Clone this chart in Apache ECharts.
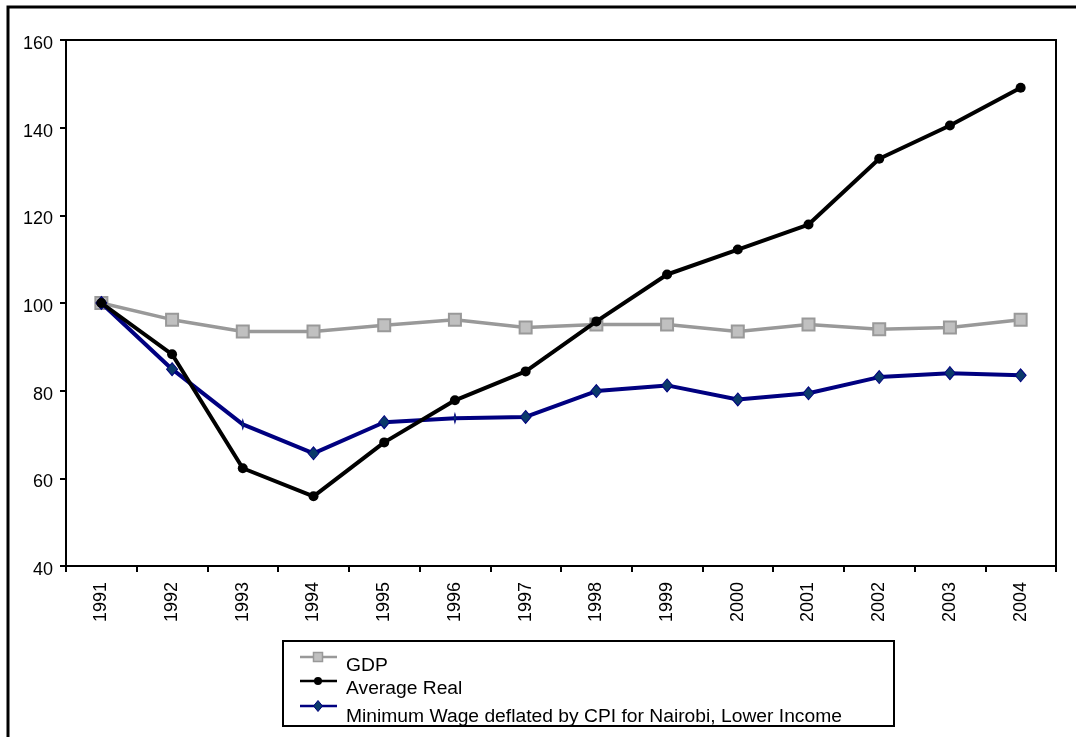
<!DOCTYPE html>
<html>
<head>
<meta charset="utf-8">
<script src="https://cdn.jsdelivr.net/npm/echarts@6/dist/echarts.min.js"></script>
<style>
  html, body { margin: 0; padding: 0; background: #fff; }
  #chart { width: 1076px; height: 737px; }
</style>
</head>
<body>
<div id="chart"></div>
<script>
// Index values, 1991 = 100
const years = ['1991', '1992', '1993', '1994', '1995', '1996', '1997',
               '1998', '1999', '2000', '2001', '2002', '2003', '2004'];
const gdp = [100, 96.2, 93.5, 93.5, 94.9, 96.2, 94.4, 95.1, 95.1, 93.5, 95.1, 94.0, 94.4, 96.2];
const averageReal = [100, 88.3, 62.3, 55.9, 68.2, 77.8, 84.4, 95.8, 106.5, 112.2, 117.9, 132.9, 140.5, 149.1];
const minimumWage = [100, 84.9, 72.3, 65.7, 72.8, 73.7, 74.0, 79.9, 81.2, 78.0, 79.4, 83.1, 84.0, 83.5];
const seriesNames = ['GDP', 'Average Real', 'Minimum Wage deflated by CPI for Nairobi, Lower Income'];
const yTicks = { min: 40, max: 160, step: 20 };

const FONT = '"Liberation Sans", Arial, sans-serif';
const colors = {
  gdpLine: '#999999', gdpFill: '#c0c0c0',
  avg: '#000000',
  minLine: '#000080', minFill: '#0a3a6a'
};

const chart = echarts.init(document.getElementById('chart'), null, { renderer: 'canvas' });

// legend rows drawn as graphics: icon line + marker, text sitting slightly below
function legendRow(y, textY, name, lineColor, symbolShape) {
  return [
    { type: 'line', shape: { x1: 300, y1: y, x2: 337, y2: y },
      style: { stroke: lineColor, lineWidth: 2.5 } },
    symbolShape,
    { type: 'text', x: 346, y: textY, scaleX: 1.07,
      style: { text: name, font: '18px ' + FONT, fill: '#000', textVerticalAlign: 'middle' } }
  ];
}

const legendGraphics = [
  { type: 'rect', shape: { x: 283, y: 641, width: 611, height: 85 },
    style: { fill: '#fff', stroke: '#000', lineWidth: 2 } },
  ...legendRow(657, 666, seriesNames[0], colors.gdpLine,
    { type: 'rect', shape: { x: 313.5, y: 652.5, width: 9, height: 9 },
      style: { fill: colors.gdpFill, stroke: colors.gdpLine, lineWidth: 1.5 } }),
  ...legendRow(681, 689, seriesNames[1], colors.avg,
    { type: 'circle', shape: { cx: 318, cy: 681, r: 4 }, style: { fill: colors.avg } }),
  ...legendRow(706, 717, seriesNames[2], colors.minLine,
    { type: 'polygon', shape: { points: [[318, 700.5], [322.5, 706], [318, 711.5], [313.5, 706]] },
      style: { fill: colors.minFill, stroke: colors.minLine, lineWidth: 1 } })
];

// a couple of the minimum-wage markers render as thin ticks
const thinMarkers = { 2: true, 5: true };

const option = {
  backgroundColor: '#fff',
  animation: false,
  textStyle: { fontFamily: FONT },
  grid: {
    left: 66, right: 20, top: 40, bottom: 171,
    containLabel: false, outerBoundsMode: 'none',
    show: true, borderColor: '#000', borderWidth: 2, backgroundColor: 'transparent'
  },
  xAxis: {
    type: 'category',
    data: years,
    boundaryGap: true,
    axisLine: { show: true, lineStyle: { color: '#000', width: 2 } },
    axisTick: { show: true, inside: false, length: 6, alignWithLabel: false, lineStyle: { color: '#000', width: 2 } },
    axisLabel: { rotate: 90, color: '#000', fontSize: 18, fontFamily: FONT, margin: 16, interval: 0 },
    splitLine: { show: false }
  },
  yAxis: {
    type: 'value',
    min: yTicks.min, max: yTicks.max, interval: yTicks.step,
    axisLine: { show: true, lineStyle: { color: '#000', width: 2 } },
    axisTick: { show: true, inside: false, length: 6, lineStyle: { color: '#000', width: 2 } },
    // labels sit a few pixels below their tick
    axisLabel: { color: '#000', fontSize: 18, fontFamily: FONT, margin: 13,
                 verticalAlign: 'top', lineHeight: 8 },
    splitLine: { show: false }
  },
  series: [
    {
      name: seriesNames[0], type: 'line', data: gdp,
      symbol: 'rect', symbolSize: 12,
      lineStyle: { color: colors.gdpLine, width: 3.5 },
      itemStyle: { color: colors.gdpFill, borderColor: colors.gdpLine, borderWidth: 2 },
      z: 2
    },
    {
      name: seriesNames[2], type: 'line', data: minimumWage,
      symbol: 'diamond',
      symbolSize: (v, p) => thinMarkers[p.dataIndex] ? [2.5, 10] : [11, 13],
      lineStyle: { color: colors.minLine, width: 4 },
      itemStyle: { color: colors.minFill, borderColor: colors.minLine, borderWidth: 1 },
      z: 3
    },
    {
      name: seriesNames[1], type: 'line', data: averageReal,
      symbol: 'circle', symbolSize: 10,
      lineStyle: { color: colors.avg, width: 4 },
      itemStyle: { color: colors.avg, borderColor: colors.avg, borderWidth: 0 },
      z: 4
    }
  ],
  graphic: [
    // outer chart frame, running off the right and bottom edges
    { type: 'rect', shape: { x: 8, y: 7, width: 1200, height: 900 },
      style: { fill: 'transparent', stroke: '#000', lineWidth: 3 }, z: 0, silent: true },
    ...legendGraphics
  ]
};

chart.setOption(option);
</script>
</body>
</html>
